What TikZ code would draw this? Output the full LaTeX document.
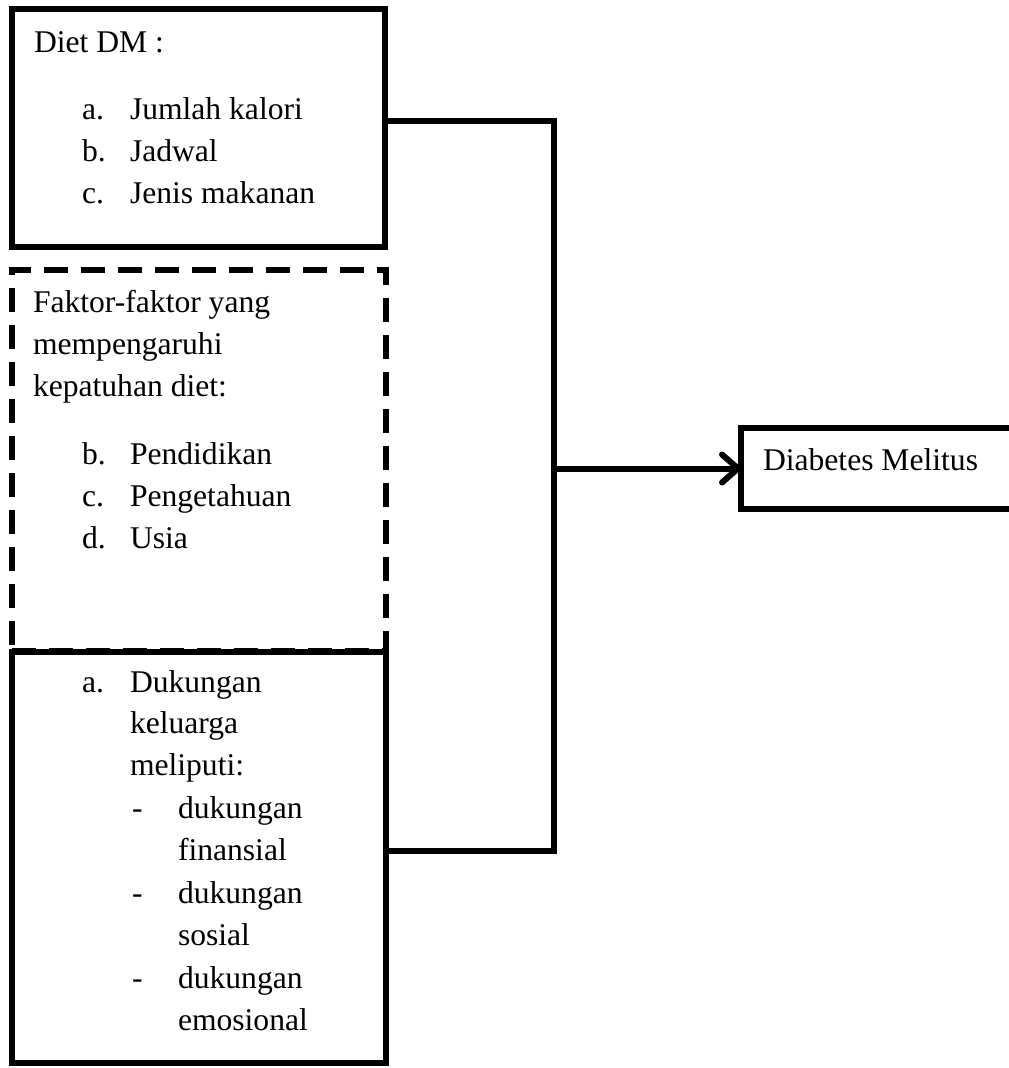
\documentclass[tikz,border=0pt]{standalone}
\usepackage{fontspec}
\setmainfont{Liberation Serif}
\usetikzlibrary{arrows.meta,calc}
\begin{document}
\begin{tikzpicture}[x=1pt,y=-1pt,
  txt/.style={anchor=base west,inner sep=0pt,outer sep=0pt,font=\fontsize{31.6}{42}\selectfont},
  box/.style={draw,line width=6pt,inner sep=0pt,outer sep=0pt,rectangle},
  dbox/.style={draw,line width=6pt,inner sep=0pt,outer sep=0pt,rectangle,dash pattern=on 24pt off 13pt},
  conn/.style={line width=6pt},
  arr/.style={line width=6pt,-{Straight Barb[length=16pt,width=28pt,line cap=round,line join=round]}}
]
\useasboundingbox (0,0) rectangle (1009,1068);
\begin{scope}
\clip (0,0) rectangle (1009,1068);
% boxes
\node[box,minimum width=373pt,minimum height=238pt] (b1) at (198.5,128) {};
\node[dbox,minimum width=374pt,minimum height=381pt] (b2) at (199,460.5) {};
\node[box,minimum width=374pt,minimum height=411pt] (b3) at (199,857.5) {};
\node[box,minimum width=300pt,minimum height=81pt] (dm) at (891,468.5) {};
\end{scope}
% texts box 1
\node[txt] (t1) at (34,52) {Diet DM :};
\node[txt] (t1a) at (82,119) {a.};
\node[txt] (t1at) at (130,119) {Jumlah kalori};
\node[txt] (t1b) at (82,161) {b.};
\node[txt] (t1bt) at (130,161) {Jadwal};
\node[txt] (t1c) at (82,203) {c.};
\node[txt] (t1ct) at (130,203) {Jenis makanan};
% texts box 2
\node[txt] (t2) at (33,312) {Faktor-faktor yang};
\node[txt] (t2l2) at (33,354) {mempengaruhi};
\node[txt] (t2l3) at (33,396) {kepatuhan diet:};
\node[txt] (t2b) at (82,464) {b.};
\node[txt] (t2bt) at (130,464) {Pendidikan};
\node[txt] (t2c) at (82,506) {c.};
\node[txt] (t2ct) at (130,506) {Pengetahuan};
\node[txt] (t2d) at (82,548) {d.};
\node[txt] (t2dt) at (130,548) {Usia};
% texts box 3
\node[txt] (t3a) at (82,692) {a.};
\node[txt] (t3at) at (130,692) {Dukungan};
\node[txt] (t3l2) at (130,733) {keluarga};
\node[txt] (t3l3) at (130,775) {meliputi:};
\node[txt] (t3d1) at (132,818) {-};
\node[txt] (t3d1t) at (178,818) {dukungan};
\node[txt] (t3d1u) at (178,860) {finansial};
\node[txt] (t3d2) at (132,903) {-};
\node[txt] (t3d2t) at (178,903) {dukungan};
\node[txt] (t3d2u) at (178,945) {sosial};
\node[txt] (t3d3) at (132,988) {-};
\node[txt] (t3d3t) at (178,988) {dukungan};
\node[txt] (t3d3u) at (178,1030) {emosional};
% DM text
\node[txt] (tdm) at (763,470) {Diabetes Melitus};
% connectors
\coordinate (c1) at (554,121);
\coordinate (c3) at (554,851);
\coordinate (j) at (554,468.5);
\draw[conn,line join=miter] ([yshift=7pt]b1.east) -- (c1) -- (c3) -- ([yshift=6.5pt]b3.east);
\draw[arr] (j) -- (dm.west);
\end{tikzpicture}
\end{document}
